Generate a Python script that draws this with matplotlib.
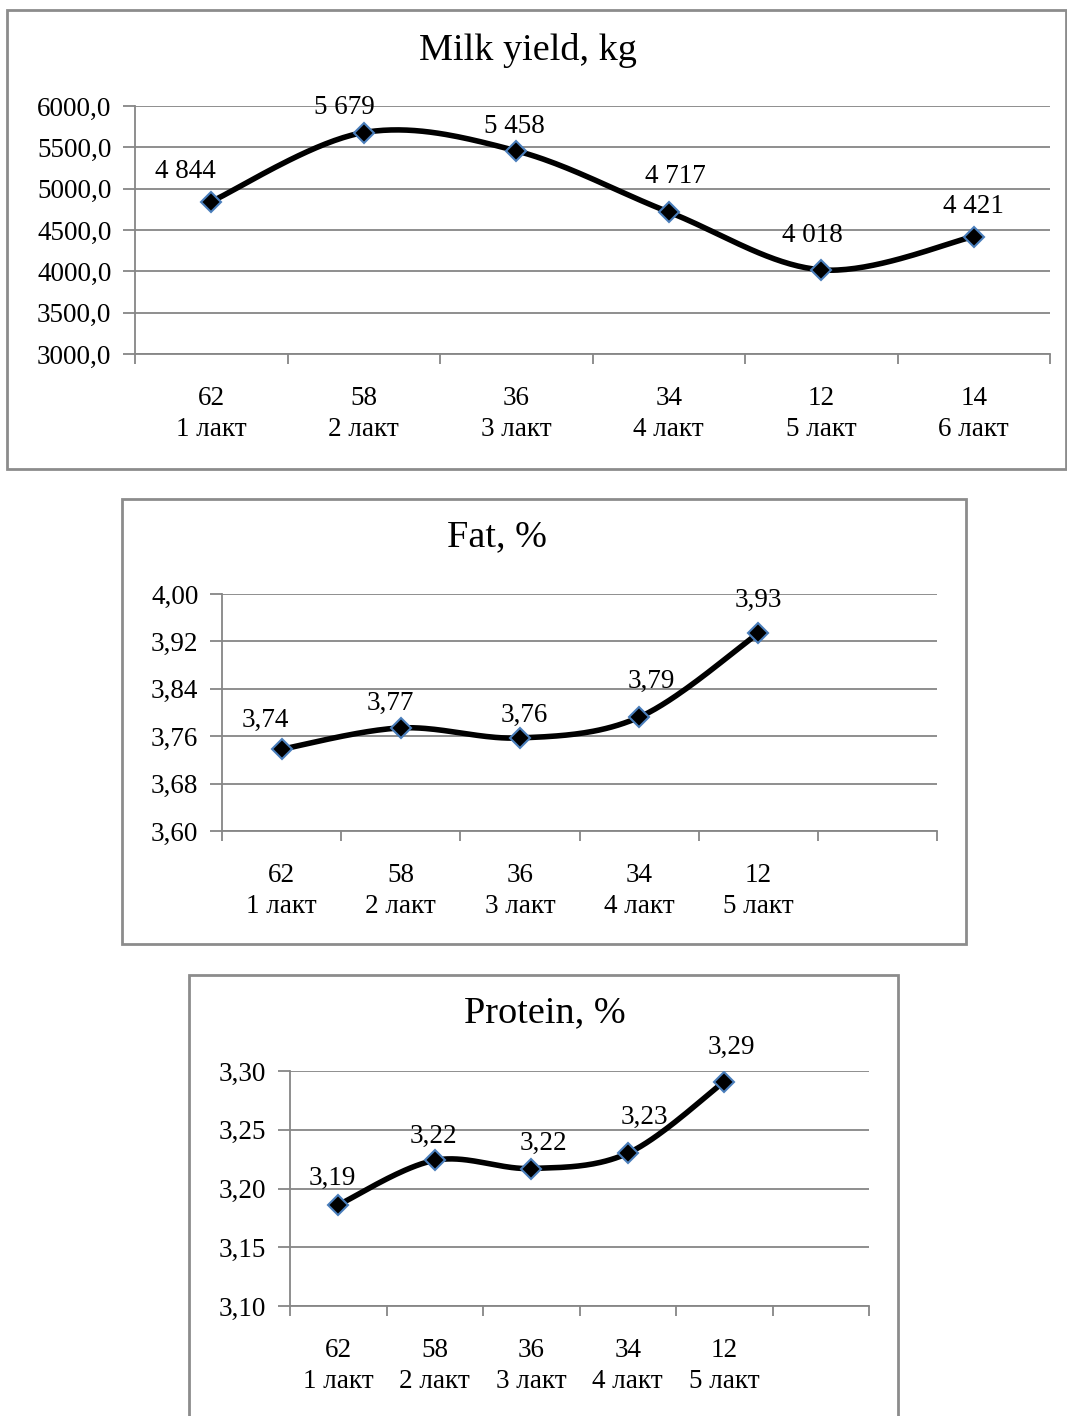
import numpy as np
import matplotlib
matplotlib.use('Agg')
from matplotlib import pyplot as plt
from matplotlib.patches import Rectangle

plt.rcParams['font.family'] = ['Liberation Serif', 'DejaVu Serif']

# data
herd_size = ['62', '58', '36', '34', '12', '14']
lactation = ['1 лакт', '2 лакт', '3 лакт', '4 лакт', '5 лакт', '6 лакт']

milk_yield = [4844, 5679, 5458, 4717, 4018, 4421]
fat_pct = [3.738, 3.774, 3.757, 3.792, 3.934]
protein_pct = [3.186, 3.224, 3.217, 3.230, 3.291]

W, H = 1067, 1416
fig = plt.figure(figsize=(W / 100, H / 100), dpi=100)

GRID = '#868686'
BORDER = '#8c8c8c'
FS = 19.5


def rect(x0, y0, x1, y1):
    # pixel box -> figure fraction
    return [x0 / W, 1 - y1 / H, (x1 - x0) / W, (y1 - y0) / H]


def smooth(x, y, n=40):
    # excel-style smoothed line (catmull-rom as bezier)
    x = np.asarray(x, float)
    y = np.asarray(y, float)
    px = np.concatenate([[x[0]], x, [x[-1]]])
    py = np.concatenate([[y[0]], y, [y[-1]]])
    t = np.linspace(0, 1, n)
    xs, ys = [], []
    for i in range(len(x) - 1):
        x0, x1, x2, x3 = px[i:i + 4]
        y0, y1, y2, y3 = py[i:i + 4]
        cx1, cy1 = x1 + (x2 - x0) / 6, y1 + (y2 - y0) / 6
        cx2, cy2 = x2 - (x3 - x1) / 6, y2 - (y3 - y1) / 6
        b0 = (1 - t) ** 3
        b1 = 3 * (1 - t) ** 2 * t
        b2 = 3 * (1 - t) * t ** 2
        b3 = t ** 3
        xs.append(b0 * x1 + b1 * cx1 + b2 * cx2 + b3 * x2)
        ys.append(b0 * y1 + b1 * cy1 + b2 * cy2 + b3 * y2)
    return np.concatenate(xs), np.concatenate(ys)


def panel(box, plot_box, title, title_xy, values, ylim, step, fmt, labels, offsets, nslots=6):
    fig.patches.append(Rectangle((box[0] / W, 1 - box[3] / H), (box[2] - box[0]) / W,
                                 (box[3] - box[1]) / H, transform=fig.transFigure,
                                 fill=False, edgecolor=BORDER, linewidth=2))
    fig.text(title_xy[0] / W, 1 - title_xy[1] / H, title, fontsize=27.5,
             ha='center', va='center')

    ax = fig.add_axes(rect(*plot_box))
    x = np.arange(len(values))
    sx, sy = smooth(x, values)
    ax.plot(sx, sy, color='black', lw=4, solid_capstyle='round', zorder=3)
    ax.plot(x, values, ls='none', marker='D', markersize=10.5,
            markerfacecolor='black', markeredgecolor='#4a7ebb', markeredgewidth=1.5, zorder=4)
    for xi, v, lab, off in zip(x, values, labels, offsets):
        ax.annotate(lab, (xi, v), xytext=off, textcoords='offset pixels',
                    ha='center', va='center', fontsize=FS)

    ax.set_xlim(-0.5, nslots - 0.5)
    ax.set_ylim(*ylim)
    yt = np.arange(ylim[0], ylim[1] + step / 2, step)
    ax.set_yticks(yt)
    ax.set_yticklabels([fmt(v) for v in yt])
    ax.yaxis.grid(True, color=GRID, lw=1.3)
    ax.set_axisbelow(True)

    ax.set_xticks(np.arange(-0.5, nslots, 1.0))
    ax.set_xticklabels([])
    ax.set_xticks(np.arange(nslots), minor=True)
    ax.set_xticklabels([h + '\n' + l for h, l in zip(herd_size[:len(values)], lactation[:len(values)])]
                       + [''] * (nslots - len(values)), minor=True)
    ax.tick_params(axis='x', which='minor', length=0, pad=23, labelsize=FS)
    ax.tick_params(axis='x', which='major', length=7, width=1.3, color=GRID)
    ax.tick_params(axis='y', length=9, width=1.3, color=GRID, pad=8, labelsize=FS)
    for lab in ax.get_xticklabels(minor=True):
        lab.set_linespacing(1.3)

    for s in ['top', 'right']:
        ax.spines[s].set_visible(False)
    for s in ['left', 'bottom']:
        ax.spines[s].set_color(GRID)
        ax.spines[s].set_linewidth(1.3)
    return ax


panel((7, 10, 1066, 469), (135, 106, 1050, 354), 'Milk yield, kg', (528, 50),
      milk_yield, (3000, 6000), 500, lambda v: f'{v:.1f}'.replace('.', ','),
      [f'{v:,}'.replace(',', ' ') for v in milk_yield],
      [(-26, 30), (-19, 25), (-2, 24), (7, 36), (-9, 34), (0, 30)])

panel((122, 499, 966, 944), (222, 594, 937, 831), 'Fat, %', (497, 537),
      fat_pct, (3.60, 4.00), 0.08, lambda v: f'{v:.2f}'.replace('.', ','),
      [f'{v:.2f}'.replace('.', ',') for v in fat_pct],
      [(-16, 29), (-10, 24), (4, 23), (12, 36), (0, 33)])

panel((189, 975, 898, 1440), (290, 1071, 869, 1306), 'Protein, %', (545, 1013),
      protein_pct, (3.10, 3.30), 0.05, lambda v: f'{v:.2f}'.replace('.', ','),
      [f'{v:.2f}'.replace('.', ',') for v in protein_pct],
      [(-6, 27), (-1, 24), (12, 25), (17, 36), (7, 34)])

plt.savefig('out.png', dpi=100)
